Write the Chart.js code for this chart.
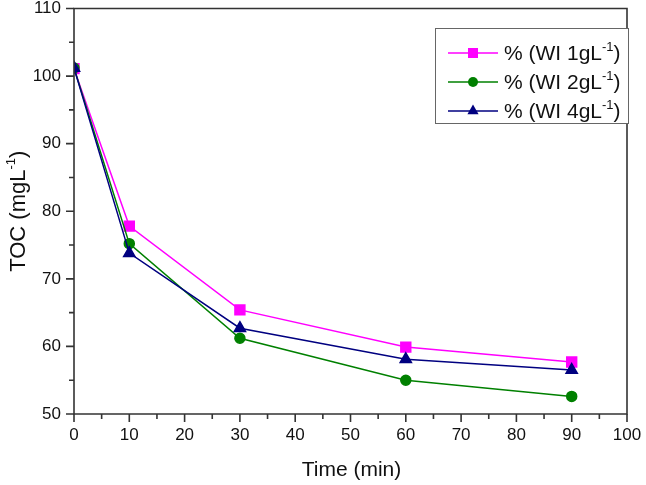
<!DOCTYPE html>
<html>
<head>
<meta charset="utf-8">
<script src="https://cdn.jsdelivr.net/npm/chart.js@4/dist/chart.umd.min.js"></script>
<style>
  html, body { margin: 0; padding: 0; background: #fff; }
  #wrap { width: 646px; height: 485px; }
</style>
</head>
<body>
<div id="wrap"><canvas id="tocChart" width="646" height="485"></canvas></div>
<script>
// data
const times = [0, 10, 30, 60, 90];
const toc1g = [101.1, 77.8, 65.4, 59.9, 57.7];
const toc2g = [101.2, 75.2, 61.2, 55.0, 52.6];
const toc4g = [101.2, 73.8, 62.7, 58.1, 56.5];
const seriesNames = ['% (WI 1gL', '% (WI 2gL', '% (WI 4gL'];
const xTicks = [0, 10, 20, 30, 40, 50, 60, 70, 80, 90, 100];
const yTicks = [50, 60, 70, 80, 90, 100, 110];

const FONT = '"Liberation Sans", Arial, sans-serif';
const AXIS = '#333';

function pts(ys) {
  return times.map((t, i) => ({ x: t, y: ys[i] }));
}

// text with a "-1" superscript followed by ")"
function supText(ctx, text, x, y, size, supSize) {
  ctx.font = size + 'px ' + FONT;
  ctx.fillText(text, x, y);
  const w1 = ctx.measureText(text).width;
  ctx.font = supSize + 'px ' + FONT;
  ctx.fillText('-1', x + w1, y - size * 0.45);
  const w2 = ctx.measureText('-1').width;
  ctx.font = size + 'px ' + FONT;
  ctx.fillText(')', x + w1 + w2, y);
}
function supWidth(ctx, text, size, supSize) {
  ctx.font = size + 'px ' + FONT;
  let w = ctx.measureText(text).width + ctx.measureText(')').width;
  ctx.font = supSize + 'px ' + FONT;
  return w + ctx.measureText('-1').width;
}

// minor/major ticks, frame, titles, legend
const decorations = {
  id: 'decorations',
  afterDraw(chart) {
    const ctx = chart.ctx;
    const a = chart.chartArea;
    const xs = chart.scales.x, ys = chart.scales.y;
    ctx.save();
    ctx.strokeStyle = AXIS;
    ctx.lineWidth = 1.6;
    ctx.beginPath();
    ctx.moveTo(a.left, a.top); ctx.lineTo(a.right, a.top);
    ctx.lineTo(a.right, a.bottom); ctx.lineTo(a.left, a.bottom);
    ctx.closePath();
    ctx.stroke();

    ctx.beginPath();
    for (let v = 0; v <= 100; v += 5) {
      const px = xs.getPixelForValue(v);
      const len = v % 10 === 0 ? 8 : 5;
      ctx.moveTo(px, a.bottom); ctx.lineTo(px, a.bottom + len);
    }
    for (let v = 50; v <= 110; v += 5) {
      const py = ys.getPixelForValue(v);
      const len = v % 10 === 0 ? 8 : 5;
      ctx.moveTo(a.left, py); ctx.lineTo(a.left - len, py);
    }
    ctx.stroke();

    ctx.fillStyle = '#111';
    ctx.font = '21px ' + FONT;
    ctx.textAlign = 'center';
    ctx.textBaseline = 'alphabetic';
    ctx.fillText('Time (min)', (a.left + a.right) / 2 + 1, 476);

    // y title
    ctx.save();
    ctx.translate(25, (a.top + a.bottom) / 2);
    ctx.rotate(-Math.PI / 2);
    ctx.textAlign = 'left';
    const tw = supWidth(ctx, 'TOC (mgL', 22, 13);
    supText(ctx, 'TOC (mgL', -tw / 2, 0, 22, 13);
    ctx.restore();

    // legend
    const lx = 435, ly = 28, lw = 193, lh = 95;
    ctx.fillStyle = '#fff';
    ctx.fillRect(lx, ly, lw, lh);
    ctx.strokeStyle = '#666';
    ctx.lineWidth = 1;
    ctx.strokeRect(lx + 0.5, ly + 0.5, lw, lh);
    chart.data.datasets.forEach((ds, i) => {
      const cy = 53 + i * 29;
      ctx.strokeStyle = ds.borderColor;
      ctx.lineWidth = 1.5;
      ctx.beginPath();
      ctx.moveTo(448, cy); ctx.lineTo(498, cy);
      ctx.stroke();
      ctx.fillStyle = ds.backgroundColor;
      ctx.beginPath();
      if (ds.pointStyle === 'rect') {
        ctx.rect(473 - 5, cy - 5, 10, 10);
      } else if (ds.pointStyle === 'circle') {
        ctx.arc(473, cy, 5, 0, Math.PI * 2);
      } else {
        ctx.moveTo(473, cy - 6.5); ctx.lineTo(478.6, cy + 3.3); ctx.lineTo(467.4, cy + 3.3);
        ctx.closePath();
      }
      ctx.fill();
      ctx.fillStyle = '#111';
      ctx.textAlign = 'left';
      ctx.textBaseline = 'alphabetic';
      supText(ctx, seriesNames[i], 504, cy + 7, 21, 13);
    });
    ctx.restore();
  }
};

const clipLeft = { left: 0, top: 8, right: 8, bottom: 8 };

new Chart(document.getElementById('tocChart').getContext('2d'), {
  type: 'line',
  data: {
    datasets: [
      { label: seriesNames[0], data: pts(toc1g), borderColor: '#ff00ff', backgroundColor: '#ff00ff',
        pointStyle: 'rect', pointRadius: 7, borderWidth: 1.5, order: 2, clip: clipLeft },
      { label: seriesNames[1], data: pts(toc2g), borderColor: '#008000', backgroundColor: '#008000',
        pointStyle: 'circle', pointRadius: 5, borderWidth: 1.5, order: 1, clip: clipLeft },
      { label: seriesNames[2], data: pts(toc4g), borderColor: '#000080', backgroundColor: '#000080',
        pointStyle: 'triangle', pointRadius: 6.5, borderWidth: 1.5, order: 0, clip: clipLeft }
    ]
  },
  options: {
    responsive: false,
    animation: false,
    layout: { padding: { top: 8, right: 19, left: 0, bottom: 0 } },
    plugins: { legend: { display: false }, tooltip: { enabled: false } },
    elements: { line: { tension: 0 }, point: { borderWidth: 0 } },
    scales: {
      x: {
        type: 'linear', min: 0, max: 100,
        afterFit(s) { s.height = 71; s.paddingLeft = 0; s.paddingRight = 0; },
        afterBuildTicks(s) { s.ticks = xTicks.map(v => ({ value: v })); },
        grid: { display: false, drawTicks: false },
        border: { display: false },
        ticks: { padding: 11, color: '#111', font: { family: FONT, size: 17 }, maxRotation: 0 }
      },
      y: {
        min: 50, max: 110,
        afterFit(s) { s.width = 74; s.paddingTop = 0; s.paddingBottom = 0; },
        afterBuildTicks(s) { s.ticks = yTicks.map(v => ({ value: v })); },
        grid: { display: false, drawTicks: false },
        border: { display: false },
        ticks: { padding: 13, color: '#111', font: { family: FONT, size: 17 } }
      }
    }
  },
  plugins: [decorations]
});
</script>
</body>
</html>
